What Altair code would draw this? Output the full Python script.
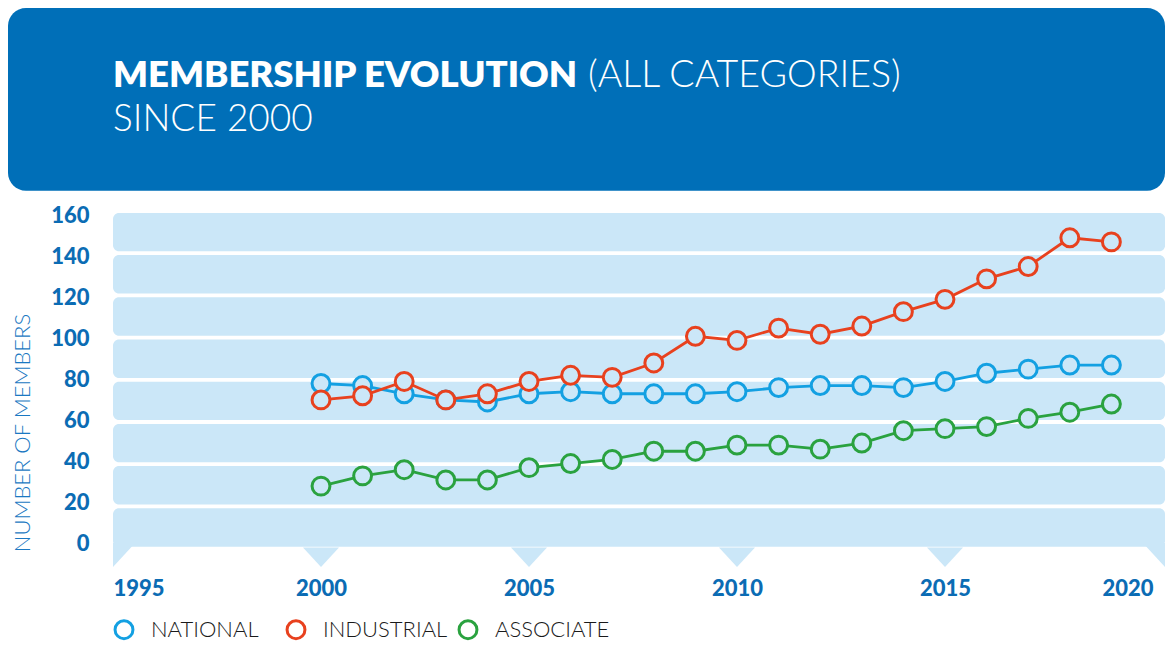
import altair as alt
import pandas as pd

# ---------------- data ----------------
YEARS = list(range(2000, 2020))
NATIONAL = [78, 77, 73, 70, 69, 73, 74, 73, 73, 73, 74, 76, 77, 77, 76, 79, 83, 85, 87, 87]
INDUSTRIAL = [70, 72, 79, 70, 73, 79, 82, 81, 88, 101, 99, 105, 102, 106, 113, 119, 129, 135, 149, 147]
ASSOCIATE = [28, 33, 36, 31, 31, 37, 39, 41, 45, 45, 48, 48, 46, 49, 55, 56, 57, 61, 64, 68]
SERIES = ["NATIONAL", "INDUSTRIAL", "ASSOCIATE"]
COLORS = ["#13a0e2", "#e8411e", "#2aa23f"]
X_TICKS = [1995, 2000, 2005, 2010, 2015, 2020]
Y_TICKS = [0, 20, 40, 60, 80, 100, 120, 140, 160]
TITLE_BOLD = "MEMBERSHIP EVOLUTION"
TITLE_LIGHT = "(ALL CATEGORIES)"
SUBTITLE = "SINCE 2000"
Y_TITLE = "NUMBER OF MEMBERS"

# ---------------- styling ----------------
FONT = "Lato"
BLUE_DARK = "#0b6cb4"
BANNER = "#006fb8"
BAND = "#cbe7f8"
W, H = 1040, 350
PAD = {"left": 105, "top": 204.7, "right": 12, "bottom": 81.3}
BAND_END = 2020.29   # bands run a little past the last tick
GAP = 0.9            # half of the white gap between bands (band units)

rows = []
for name, vals in zip(SERIES, [NATIONAL, INDUSTRIAL, ASSOCIATE]):
    for yr, v in zip(YEARS, vals):
        rows.append({"series": name, "year": yr, "members": v})
df = pd.DataFrame(rows)

bands_df = pd.DataFrame({
    "x0": [X_TICKS[0]] * (len(Y_TICKS) - 1),
    "x1": [BAND_END] * (len(Y_TICKS) - 1),
    "lo": [v + GAP for v in Y_TICKS[:-1]],
    "hi": [v - GAP for v in Y_TICKS[1:]],
})

FULL = "M -1.2 -0.2 L 1.2 -0.2 L 0 1.1 Z"
LEFT_HALF = "M 0 -0.5 L 1.476 -0.5 L 0 1.1 Z"
RIGHT_HALF = "M 0 -0.5 L -1.476 -0.5 L 0 1.1 Z"
notch_x = [X_TICKS[0]] + X_TICKS[1:-1] + [BAND_END]
notch_shape = [LEFT_HALF] + [FULL] * (len(X_TICKS) - 2) + [RIGHT_HALF]
notch_df = pd.DataFrame({"x": notch_x, "shape": notch_shape, "yb": [-GAP] * len(notch_x)})

x_scale = alt.Scale(domain=[1995, 2020], nice=False, zero=False)
x_axis = alt.Axis(values=X_TICKS, format="d", labelFlush=True, grid=False, ticks=False,
                  tickSize=0, domain=False, labelFont=FONT, labelFontSize=22,
                  labelFontWeight=900, labelColor=BLUE_DARK, labelPadding=16)
band_scale = alt.Scale(domain=[-6.68, 159.19], nice=False, zero=False)
y_scale = alt.Scale(domain=[-9.31, 161.22], nice=False, zero=False)
y_axis = alt.Axis(values=Y_TICKS, grid=False, ticks=False, tickSize=0, domain=False,
                  labelFont=FONT, labelFontSize=22, labelFontWeight=900,
                  labelColor=BLUE_DARK, labelPadding=24,
                  title=Y_TITLE, titleFont=FONT, titleFontSize=22, titleFontWeight=300,
                  titleColor="#1a78c2", titleX=-84, titleY=339, titleAlign="left",
                  titleBaseline="alphabetic")

bands = alt.Chart(bands_df).mark_rect(color=BAND, cornerRadius=6).encode(
    x=alt.X("x0:Q", scale=x_scale, axis=x_axis, title=None),
    x2="x1:Q",
    y=alt.Y("lo:Q", scale=band_scale, axis=None, title=None),
    y2="hi:Q",
)
notches = alt.Chart(notch_df).mark_point(filled=True, color=BAND, opacity=1, size=900,
                                         strokeWidth=0).encode(
    x=alt.X("x:Q", scale=x_scale, axis=x_axis, title=None),
    y=alt.Y("yb:Q", scale=band_scale, axis=None, title=None),
    shape=alt.Shape("shape:N", scale=None),
)
bg = alt.layer(bands, notches)

legend = alt.Legend(orient="none", legendX=0, legendY=406, direction="horizontal", title=None,
                    symbolType="circle", symbolSize=320, symbolStrokeWidth=3,
                    labelFont=FONT, labelFontSize=22, labelFontWeight=300,
                    labelColor="#1a1a1a", labelOffset=16, columnPadding=5,
                    gridAlign="all", padding=0)
color = alt.Color("series:N", scale=alt.Scale(domain=SERIES, range=COLORS), legend=legend)

data_layers = []
for s in SERIES:
    b = alt.Chart(df).transform_filter(alt.datum.series == s)
    xy = dict(
        x=alt.X("year:Q", scale=x_scale, axis=x_axis, title=None),
        y=alt.Y("members:Q", scale=y_scale, axis=y_axis),
    )
    data_layers.append(b.mark_line(strokeWidth=2.8).encode(color=color, **xy))
    data_layers.append(b.mark_point(filled=True, color=BAND, opacity=1, size=320).encode(**xy))
    data_layers.append(b.mark_point(filled=False, opacity=1, size=320, strokeWidth=3)
                       .encode(color=color, **xy))
data = alt.layer(*data_layers)

one = pd.DataFrame({"a": [0]})
banner = alt.Chart(one).mark_rect(color=BANNER, cornerRadius=18).encode(
    x=alt.value(-PAD["left"]), x2=alt.value(W + PAD["right"]),
    y=alt.value(-PAD["top"]), y2=alt.value(-22)
)
t1 = alt.Chart(pd.DataFrame({"t": [TITLE_BOLD]})).mark_text(
    align="left", baseline="alphabetic", font=FONT, fontSize=36.5, fontWeight=800, color="white"
).encode(text="t:N", x=alt.value(0), y=alt.value(-125.4))
t2 = alt.Chart(pd.DataFrame({"t": [TITLE_LIGHT]})).mark_text(
    align="left", baseline="alphabetic", font=FONT, fontSize=37.5, fontWeight=300, color="white"
).encode(text="t:N", x=alt.value(475), y=alt.value(-125.4))
t3 = alt.Chart(pd.DataFrame({"t": [SUBTITLE]})).mark_text(
    align="left", baseline="alphabetic", font=FONT, fontSize=37, fontWeight=300, color="white"
).encode(text="t:N", x=alt.value(0), y=alt.value(-81.7))

chart = alt.layer(bg, data, banner, t1, t2, t3).resolve_scale(y="independent").properties(
    width=W, height=H, padding=PAD, background="white",
    autosize=alt.AutoSizeParams(type="none"),
).configure_view(stroke=None)

chart.save("out.html", embed_options={"renderer": "svg", "actions": False})
